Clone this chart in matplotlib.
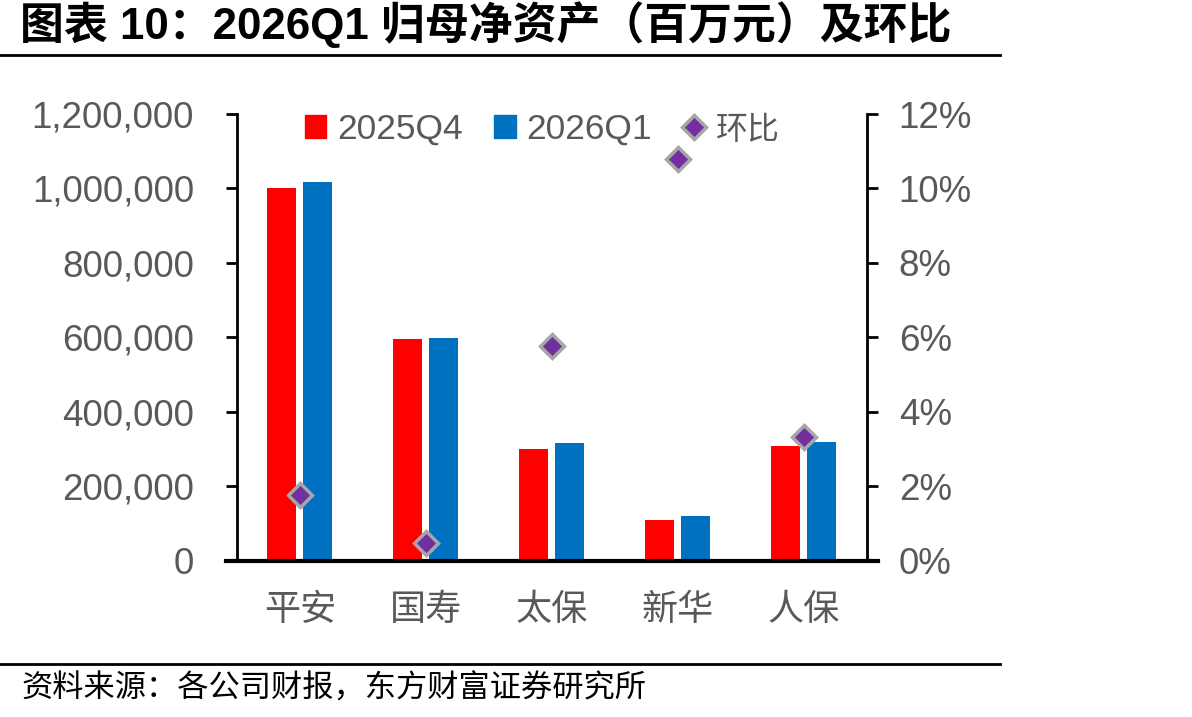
import matplotlib.pyplot as plt
import numpy as np
from matplotlib.lines import Line2D
from matplotlib.patches import Patch
from matplotlib.ticker import FuncFormatter

# 归母净资产（百万元）
companies = ['平安', '国寿', '太保', '新华', '人保']
nav_2025q4 = [1000000, 596000, 300500, 110000, 309000]
nav_2026q1 = [1018000, 598800, 318000, 121800, 319300]
qoq_pct = [1.78, 0.48, 5.78, 10.78, 3.34]

left_ticks = [0, 200000, 400000, 600000, 800000, 1000000, 1200000]
right_ticks = [0, 2, 4, 6, 8, 10, 12]

red = '#FF0000'
blue = '#0070C0'
purple = '#7030A0'
grey_txt = '#595959'
num_font = ['Liberation Sans', 'Noto Sans CJK SC']
cjk_font = ['Noto Sans CJK SC', 'DejaVu Sans']

fig = plt.figure(figsize=(11.92, 7.17), dpi=100)
ax = fig.add_axes([0.1988, 0.2176, 0.5283, 0.6234])
ax2 = ax.twinx()

x = np.arange(len(companies))
w = 0.23
off = 0.143
ax.bar(x - off, nav_2025q4, width=w, color=red, zorder=2)
ax.bar(x + off, nav_2026q1, width=w, color=blue, zorder=2)

ax2.plot(x, qoq_pct, linestyle='none', marker='D', markersize=12,
         markerfacecolor=purple, markeredgecolor='#A6A6A6', markeredgewidth=2.5, zorder=3)

ax.set_xlim(-0.5, 4.5)
ax.set_ylim(0, 1200000)
ax2.set_ylim(0, 12)
ax.set_yticks(left_ticks)
ax2.set_yticks(right_ticks)
ax.yaxis.set_major_formatter(FuncFormatter(lambda v, p: f'{int(v):,}'))
ax2.yaxis.set_major_formatter(FuncFormatter(lambda v, p: f'{int(v)}%'))
ax.set_xticks(x)
ax.set_xticklabels(companies, family=cjk_font, fontsize=26, color=grey_txt)
ax.tick_params(axis='x', length=0, pad=22)
ax.tick_params(axis='y', length=8, width=2, direction='out', pad=23, labelsize=26.5, labelcolor=grey_txt)
ax2.tick_params(axis='y', length=8, width=2, direction='out', pad=15, labelsize=26.5, labelcolor=grey_txt)
for lab in ax.get_yticklabels() + ax2.get_yticklabels():
    lab.set_family(num_font)

for a in (ax, ax2):
    a.spines['top'].set_visible(False)
    for s in ('left', 'right', 'bottom'):
        a.spines[s].set_linewidth(2)
ax.spines['right'].set_visible(False)
ax2.spines['left'].set_visible(False)
ax2.spines['bottom'].set_visible(False)
ax.spines['bottom'].set_visible(False)
ax.add_line(Line2D([-11 / 629, 1 + 11 / 629], [0, 0], transform=ax.transAxes,
                   color='black', linewidth=3, clip_on=False, zorder=5))

handles = [Patch(color=red), Patch(color=blue),
           Line2D([], [], linestyle='none', marker='D', markersize=12,
                  markerfacecolor=purple, markeredgecolor='#A6A6A6', markeredgewidth=2.5)]
leg = ax.legend(handles, ['2025Q4', '2026Q1', '环比'], ncol=3, frameon=False,
                loc='center', bbox_to_anchor=(0.485, 0.965), prop={'family': num_font, 'size': 25.5},
                handlelength=0.6, handleheight=0.6, handletextpad=0.3, columnspacing=0.9)
for t in leg.get_texts():
    t.set_color(grey_txt)
leg.get_texts()[2].set_family(cjk_font)
leg.get_texts()[2].set_fontsize(23)

fig.text(0.017, 0.965, '图表 10：2026Q1 归母净资产（百万元）及环比', family=num_font,
         fontsize=31.6, fontweight='bold', va='center', ha='left')
fig.add_artist(Line2D([0, 0.839], [0.9233, 0.9233], color='black', linewidth=2))
fig.add_artist(Line2D([0, 0.839], [0.0739, 0.0739], color='black', linewidth=2))
fig.text(0.018, 0.040, '资料来源：各公司财报，东方财富证券研究所', family=cjk_font,
         fontsize=22.5, va='center', ha='left')

fig.savefig('out.png', dpi=100)
